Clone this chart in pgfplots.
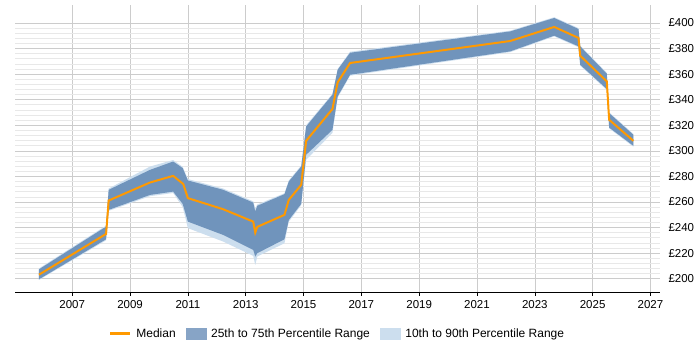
\documentclass[border=0pt]{standalone}
\usepackage{pgfplots}
\pgfplotsset{compat=1.18}
\usepackage{fontspec}
\setmainfont{Liberation Sans}
\definecolor{medc}{RGB}{255,153,0}
\definecolor{darkb}{RGB}{112,148,188}
\definecolor{darkleg}{RGB}{135,164,198}
\definecolor{lightb}{RGB}{204,222,238}
\begin{document}
\begin{tikzpicture}
\useasboundingbox (0,0) rectangle (700pt,350pt);
\begin{axis}[
  at={(15pt,57.3pt)}, anchor=south west,
  scale only axis, width=645pt, height=288pt,
  xmin=2005.02, xmax=2027.33, ymin=189, ymax=414.3,
  axis x line=bottom, axis y line=right,
  x axis line style={-, black, line width=0.9pt},
  y axis line style={draw=none},
  xtick={2007,2009,...,2027},
  ytick={200,220,...,400},
  minor y tick num=4,
  tick align=outside,
  major tick length=3pt,
  xtick style={black, line width=0.6pt},
  ytick style={draw=none},
  minor tick length=0pt,
  xmajorgrids, ymajorgrids, yminorgrids,
  major grid style={draw=black!20, line width=0.6pt},
  minor grid style={draw=black!9, line width=0.6pt},
  /pgf/number format/assume math mode=true,
  xticklabel style={/pgf/number format/1000 sep={}, font=\fontsize{11.5}{13}\selectfont, yshift=-1pt},
  yticklabel={£\pgfmathprintnumber{\tick}},
  yticklabel style={font=\fontsize{11.5}{13}\selectfont, anchor=west, xshift=2pt},
  legend style={at={(0.5,-0.142)}, anchor=center, draw=none, fill=none,
    font=\fontsize{12}{14}\selectfont, legend columns=3,
    /tikz/every odd column/.append style={column sep=3pt},
    /tikz/every even column/.append style={column sep=8pt},
    legend cell align=left, inner sep=0pt},
]
\addlegendimage{legend image code/.code={\draw[medc, line width=2.5pt] (0pt,0pt) -- (20pt,0pt);}}
\addlegendentry{Median}
\addlegendimage{legend image code/.code={\fill[darkleg] (0pt,-5.7pt) rectangle (20pt,5.7pt);}}
\addlegendentry{25th to 75th Percentile Range}
\addlegendimage{legend image code/.code={\fill[lightb] (0pt,-5.7pt) rectangle (20pt,5.7pt);}}
\addlegendentry{10th to 90th Percentile Range}

% 10th-90th band: 90th upper edge, then 10th lower edge reversed
\addplot[fill=lightb, draw=none, forget plot] coordinates {
(2005.85,208) (2008.17,241.5) (2008.26,270.5) (2009.69,287.7) (2010.49,292.8)
(2010.82,287.5) (2011.0,277.9) (2012.22,270.5) (2013.26,260.5) (2013.33,255)
(2013.40,258) (2014.34,266.8) (2014.49,276.8) (2014.92,288.5) (2015.09,320)
(2016.0,344.5) (2016.18,364) (2016.61,377.5) (2022.15,394) (2023.67,404.5)
(2024.51,396) (2024.57,382.3) (2025.49,361) (2025.57,330.2) (2026.41,313.2)
(2026.41,303.2) (2025.57,317.5) (2025.49,347.6) (2024.57,366.6) (2024.51,381)
(2023.67,389.5) (2022.15,377.2) (2016.61,358.8) (2016.18,341.5) (2016.0,314)
(2015.09,293) (2014.92,257.5) (2014.49,244.5) (2014.34,227.7) (2013.40,217.3)
(2013.33,210.7) (2013.26,217.8) (2012.22,229) (2011.0,239.5) (2010.82,256)
(2010.49,267) (2009.69,264.5) (2008.26,253) (2008.17,230) (2005.85,199)} -- cycle;

% 25th-75th band
\addplot[fill=darkb, draw=none, forget plot] coordinates {
(2005.85,207.3) (2008.17,240.7) (2008.26,269.5) (2009.69,285.1) (2010.49,291.6)
(2010.82,286.5) (2011.0,276.8) (2012.22,269.5) (2013.26,259.5) (2013.33,252.5)
(2013.40,257) (2014.34,266.1) (2014.49,276) (2014.92,287.7) (2015.09,319)
(2016.0,343.9) (2016.18,363.4) (2016.61,376.7) (2022.15,393.4) (2023.67,403.9)
(2024.51,395.3) (2024.57,381.7) (2025.49,360.3) (2025.57,329.5) (2026.41,312.5)
(2026.41,303.9) (2025.57,318.2) (2025.49,348.3) (2024.57,367.3) (2024.51,381.7)
(2023.67,390.1) (2022.15,377.8) (2016.61,359.5) (2016.18,342.5) (2016.0,316.4)
(2015.09,296.9) (2014.92,258.5) (2014.49,245.8) (2014.34,230.8) (2013.40,219.9)
(2013.33,217.3) (2013.26,222.5) (2012.22,234.2) (2011.0,244.6) (2010.82,258.5)
(2010.49,268.1) (2009.69,265.5) (2008.26,253.8) (2008.17,230.8) (2005.85,199.5)} -- cycle;

\addplot[medc, line width=2pt, forget plot] coordinates {
(2005.85,203.1) (2008.17,235) (2008.26,261.1) (2009.69,275.2) (2010.49,280.4)
(2010.84,274) (2011.0,263) (2012.22,254.3) (2013.26,244.6) (2013.33,236)
(2013.40,240.5) (2014.34,249.9) (2014.49,261.6) (2014.92,273.4) (2015.09,307.8)
(2016.0,332.7) (2016.18,353.5) (2016.61,368.7) (2022.15,385.9) (2023.67,396.9)
(2024.51,388.3) (2024.57,374.4) (2025.49,354.3) (2025.57,324.3) (2026.41,307.8)};
\end{axis}
\end{tikzpicture}
\end{document}
